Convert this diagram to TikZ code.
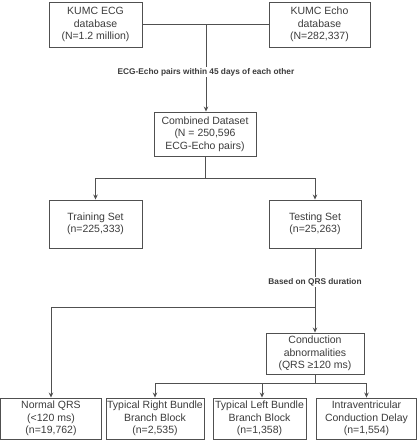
\documentclass[tikz,border=0pt]{standalone}
\usepackage{fontspec}
\setmainfont{Liberation Sans}
\usetikzlibrary{arrows.meta}
\definecolor{txt}{HTML}{3C3C3C}
\definecolor{edge}{HTML}{505050}
\begin{document}
\begin{tikzpicture}[x=1pt,y=-1pt,
  box/.style={draw=edge,line width=0.9pt,fill=white,text=txt,align=center,inner sep=1pt,
    font=\fontsize{10.5}{12.5}\selectfont},
  conn/.style={draw=edge,line width=0.8pt},
  arr/.style={conn,-{Stealth[length=5pt,width=4.5pt]}},
  lab/.style={fill=white,text=txt,inner sep=1.5pt,font=\bfseries\fontsize{8.3}{10}\selectfont}]
\useasboundingbox (0,0) rectangle (417,440);
\node[box,minimum width=93pt,minimum height=45pt] (ecg) at (95.5,24.5) {KUMC ECG\\database\\(N=1.2 million)};
\node[box,minimum width=101pt,minimum height=45pt] (echo) at (319.5,24.5) {KUMC Echo\\database\\(N=282,337)};
\node[box,minimum width=102pt,minimum height=44pt] (comb) at (205,134) {Combined Dataset\\(N = 250,596\\ECG-Echo pairs)};
\node[box,minimum width=93pt,minimum height=48pt] (train) at (95.5,224) {Training Set\\(n=225,333)};
\node[box,minimum width=92pt,minimum height=48pt] (test) at (315,224) {Testing Set\\(n=25,263)};
\node[box,minimum width=98pt,minimum height=41pt] (cond) at (315,353.5) {Conduction\\abnormalities\\(QRS ≥120 ms)};
\node[box,minimum width=101pt,minimum height=41pt] (b1) at (51,418.5) {Normal QRS\\(<120 ms)\\(n=19,762)};
\node[box,minimum width=98pt,minimum height=41pt] (b2) at (155,418.5) {Typical Right Bundle\\Branch Block\\(n=2,535)};
\node[box,minimum width=93pt,minimum height=41pt] (b3) at (259.5,418.5) {Typical Left Bundle\\Branch Block\\(n=1,358)};
\node[box,minimum width=100pt,minimum height=41pt] (b4) at (366.5,418.5) {Intraventricular\\Conduction Delay\\(n=1,554)};
% top merge
\coordinate (j1) at (206,24);
\draw[conn] (ecg.east |- j1) -- (echo.west |- j1);
\draw[arr] (j1) -- (j1 |- comb.north);
\node[lab] (l1) at (206,72) {ECG-Echo pairs within 45 days of each other};
% split
\coordinate (j2) at (205,178);
\draw[conn] (comb.south) -- (j2);
\draw[arr] (j2) -| (train.north);
\draw[arr] (j2) -| (test.north);
% QRS split
\draw[arr] (test.south) -- (cond.north);
\coordinate (j3) at (315,307);
\draw[arr] (j3) -| (b1.north);
\node[lab] (l2) at (315,282) {Based on QRS duration};
% conduction split
\coordinate (j4) at (315,383);
\coordinate (j5) at (262,383);
\draw[conn] (cond.south) -- (j4);
\draw[arr] (j4) -| (b2.north);
\draw[arr] (j4) -| (b4.north);
\draw[arr] (j5) -- (j5 |- b3.north);
\end{tikzpicture}
\end{document}
